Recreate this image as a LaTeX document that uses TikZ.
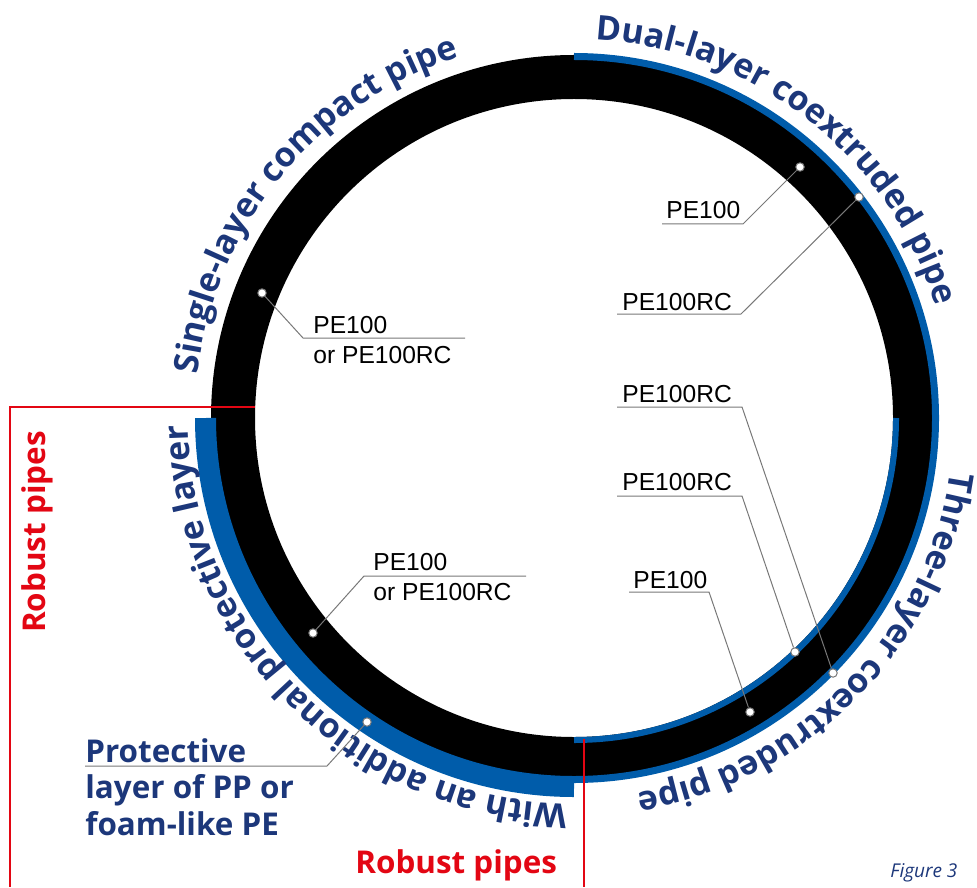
\documentclass[tikz,border=0pt]{standalone}
\usepackage{fontspec}
\setmainfont{Liberation Sans}
\newfontfamily\opensans{Open Sans}
\usepackage{tikz}
\usetikzlibrary{positioning}
\usetikzlibrary{calc}
\usetikzlibrary{decorations.text}

\definecolor{pipenavy}{RGB}{28,55,122}
\definecolor{pipeblue}{RGB}{0,92,170}
\definecolor{robustred}{RGB}{227,6,19}
\definecolor{leadgray}{RGB}{120,120,120}

\newcommand{\arcfont}{\opensans\bfseries\fontsize{17}{20}\selectfont}
\newcommand{\navyfont}{\opensans\bfseries\fontsize{15.7}{18.25}\selectfont}
\newcommand{\pefont}{\fontsize{12.3}{15}\selectfont}

\begin{document}
\begin{tikzpicture}[x=0.5pt, y=0.5pt]
% -------------------------------------------------
\tikzset{
  dot/.style={circle, draw=leadgray, fill=white, line width=0.5pt, inner sep=0pt, minimum size=4.2pt},
  lead/.style={draw=leadgray, line width=0.5pt},
  pe/.style={font=\pefont, inner sep=0pt, anchor=base west},
  navy/.style={font=\navyfont, text=pipenavy, inner sep=0pt, anchor=base west},
  robust/.style={font=\navyfont, text=robustred, inner sep=0pt},
  redline/.style={draw=robustred, line width=1.2pt},
  arctext/.style={decorate, decoration={text along path, text align=center, text color=pipenavy, text={|\arcfont|#1}}}
}

    \useasboundingbox (0,0) rectangle (977,-887);
    \coordinate (c) at (574,-418);                                   % pipe axis

    \draw[line width=22pt] (c) circle[radius=341];                   % pipe wall, black
    \draw[pipeblue, line width=3.5pt] (c) ++(90:361.5) arc[start angle=90, end angle=-90, radius=361.5];   % outer skin
    \draw[pipeblue, line width=3pt] (c) ++(0:322) arc[start angle=0, end angle=-90, radius=322];           % inner skin
    \draw[pipeblue, line width=10.5pt] (c) ++(180:368.5) arc[start angle=180, end angle=270, radius=368.5]; % protective layer

    % robust pipes brackets
    \coordinate (r1) at (255,-407);
    \coordinate (r2) at (10,-407);
    \coordinate (r3) at (10,-887);
    \coordinate (r4) at (584,-739);
    \coordinate (r5) at (584,-887);
    \draw[redline] (r1) -- (r2) -- (r3);
    \draw[redline] (r4) -- (r5);

    % titles along the pipe
    \path[arctext={Single-layer compact pipe}] (c) ++(180.5:379) arc[start angle=180.5, end angle=100.5, radius=379];
    \path[arctext={Dual-layer coextruded pipe}] (c) ++(92:379) arc[start angle=92, end angle=12, radius=379];
    \path[arctext={Three-layer coextruded pipe}] (c) ++(-4.3:380) arc[start angle=-4.3, end angle=-84.3, radius=380];
    \path[arctext={With an additional protective layer}] (c) ++(275:386) arc[start angle=275, end angle=175, radius=386];

    % single-layer pipe
    \node[dot] (d1) at (262,-293) {};
    \coordinate (k1) at (303,-338);
    \coordinate (e1) at (465,-338);
    \node[pe] (t1) at (313,-333) {PE100};
    \node[pe] (t1b) at (313,-363) {or PE100RC};

    % dual-layer pipe
    \node[dot] (d2) at (800,-167) {};
    \coordinate (k2) at (743,-224);
    \coordinate (e2) at (662,-224);
    \node[pe] (t2) at (666,-219) {PE100};
    \node[dot] (d3) at (859,-197) {};
    \coordinate (k3) at (741,-314);
    \coordinate (e3) at (617,-314);
    \node[pe] (t3) at (622,-310) {PE100RC};

    % three-layer pipe
    \node[dot] (d4) at (833,-673) {};
    \coordinate (k4) at (742,-407);
    \coordinate (e4) at (617,-407);
    \node[pe] (t4) at (622,-402) {PE100RC};
    \node[dot] (d5) at (795,-652) {};
    \coordinate (k5) at (742,-496);
    \coordinate (e5) at (617,-496);
    \node[pe] (t5) at (622,-490) {PE100RC};
    \node[dot] (d6) at (750,-712) {};
    \coordinate (k6) at (709,-592);
    \coordinate (e6) at (629,-592);
    \node[pe] (t6) at (633,-588) {PE100};

    % pipe with protective layer
    \node[dot] (d7) at (313,-633) {};
    \coordinate (k7) at (364,-576);
    \coordinate (e7) at (526,-576);
    \node[pe] (t7) at (373,-570) {PE100};
    \node[pe] (t7b) at (373,-600) {or PE100RC};
    \node[dot] (d8) at (367,-722) {};
    \coordinate (k8) at (327,-766);
    \coordinate (e8) at (85,-766);
    \node[navy] (t8) at (85,-762) {Protective};
    \node[navy] (t8b) at (85,-798) {layer of PP or};
    \node[navy] (t8c) at (85,-835) {foam-like PE};

    \path [lead] (d1) -- (k1) -- (e1);
    \path [lead] (d2) -- (k2) -- (e2);
    \path [lead] (d3) -- (k3) -- (e3);
    \path [lead] (d4) -- (k4) -- (e4);
    \path [lead] (d5) -- (k5) -- (e5);
    \path [lead] (d6) -- (k6) -- (e6);
    \path [lead] (d7) -- (k7) -- (e7);
    \path [lead] (d8) -- (k8) -- (e8);

    \node[robust, rotate=90] (rob1) at (37,-532) {Robust pipes};
    \node[robust, anchor=base west] (rob2) at (355,-873) {Robust pipes};
    \node[font=\opensans\itshape\fontsize{9.5}{11}\selectfont, text=pipenavy, inner sep=0pt, anchor=base west] (fig) at (890,-877) {Figure 3};

\end{tikzpicture}
\end{document}
